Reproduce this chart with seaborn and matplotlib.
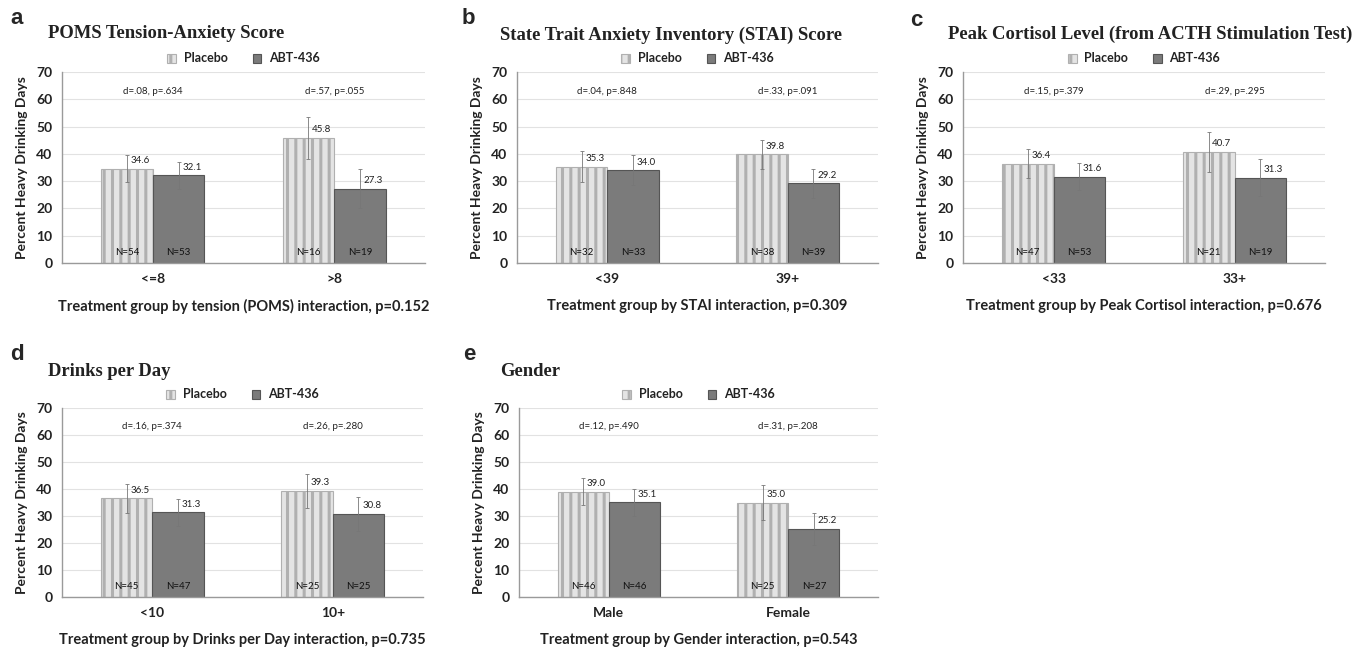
import matplotlib
matplotlib.use("Agg")
import matplotlib.pyplot as plt
from matplotlib.patches import Patch
import pandas as pd
import seaborn as sns

# panel a - POMS
poms_groups = ["<=8", ">8"]
poms_placebo = [34.6, 45.8]
poms_abt = [32.1, 27.3]
poms_placebo_err = [5.0, 7.6]
poms_abt_err = [5.0, 7.2]
poms_placebo_n = [54, 16]
poms_abt_n = [53, 19]
poms_stats = ["d=.08, p=.634", "d=.57, p=.055"]

# panel b - STAI
stai_groups = ["<39", "39+"]
stai_placebo = [35.3, 39.8]
stai_abt = [34.0, 29.2]
stai_placebo_err = [5.7, 5.3]
stai_abt_err = [5.5, 5.2]
stai_placebo_n = [32, 38]
stai_abt_n = [33, 39]
stai_stats = ["d=.04, p=.848", "d=.33, p=.091"]

# panel c - cortisol
cort_groups = ["<33", "33+"]
cort_placebo = [36.4, 40.7]
cort_abt = [31.6, 31.3]
cort_placebo_err = [5.2, 7.2]
cort_abt_err = [5.0, 6.8]
cort_placebo_n = [47, 21]
cort_abt_n = [53, 19]
cort_stats = ["d=.15, p=.379", "d=.29, p=.295"]

# panel d - drinks per day
dpd_groups = ["<10", "10+"]
dpd_placebo = [36.5, 39.3]
dpd_abt = [31.3, 30.8]
dpd_placebo_err = [5.4, 6.3]
dpd_abt_err = [5.0, 6.3]
dpd_placebo_n = [45, 25]
dpd_abt_n = [47, 25]
dpd_stats = ["d=.16, p=.374", "d=.26, p=.280"]

# panel e - gender
gen_groups = ["Male", "Female"]
gen_placebo = [39.0, 35.0]
gen_abt = [35.1, 25.2]
gen_placebo_err = [5.0, 6.5]
gen_abt_err = [5.0, 5.8]
gen_placebo_n = [46, 25]
gen_abt_n = [46, 27]
gen_stats = ["d=.12, p=.490", "d=.31, p=.208"]

arms = ["Placebo", "ABT-436"]

sns.set_style("white")
plt.rcParams["font.family"] = ["Lato", "DejaVu Sans"]
plt.rcParams["hatch.linewidth"] = 2.2

PLACEBO_FACE = "#e4e4e4"
PLACEBO_EDGE = "#b0b0b0"
ABT_FACE = "#7b7b7b"
ABT_EDGE = "#555555"
TEXT = "#222222"

fig = plt.figure(figsize=(13.62, 6.48), dpi=100)


def draw_panel(rect, letter, title, groups, placebo, abt, p_err, a_err,
               p_n, a_n, stats, xlabel, letter_xy, title_xy):
    ax = fig.add_axes(rect)
    df = pd.DataFrame({
        "group": groups * 2,
        "value": placebo + abt,
        "arm": [arms[0]] * len(groups) + [arms[1]] * len(groups),
    })
    sns.barplot(data=df, x="group", y="value", hue="arm", hue_order=arms,
                order=groups, palette={arms[0]: PLACEBO_FACE, arms[1]: ABT_FACE},
                width=0.57, gap=0, errorbar=None, saturation=1,
                legend=False, ax=ax)

    for cont, errs, ns, vals, arm in zip(ax.containers, [p_err, a_err], [p_n, a_n],
                                         [placebo, abt], arms):
        for bar, e, n, v in zip(cont, errs, ns, vals):
            if arm == arms[0]:
                bar.set_hatch("||")
                bar.set_edgecolor(PLACEBO_EDGE)
            else:
                bar.set_edgecolor(ABT_EDGE)
            bar.set_linewidth(0.8)
            cx = bar.get_x() + bar.get_width() / 2
            ax.errorbar(cx, v, yerr=e, color="#777777", lw=0.6, capsize=1.2,
                        capthick=0.6, zorder=4)
            ax.text(cx + 0.02, v + 1.3, f"{v:.1f}", fontsize=7, color=TEXT,
                    ha="left", va="bottom", zorder=5)
            ax.text(cx, 2.2, f"N={n}", fontsize=7, color="#111111",
                    ha="center", va="bottom", zorder=5)

    for i, s in enumerate(stats):
        ax.text(i, 63, s, fontsize=7, color=TEXT, ha="center", va="center")

    ax.set_xlim(-0.5, 1.5)
    ax.set_ylim(0, 70)
    ax.set_yticks(range(0, 71, 10))
    ax.yaxis.grid(True, color="#e2e2e2", lw=0.8)
    ax.set_axisbelow(True)
    for side in ["top", "right"]:
        ax.spines[side].set_visible(False)
    for side in ["left", "bottom"]:
        ax.spines[side].set_color("#9a9a9a")
        ax.spines[side].set_linewidth(1.0)
    ax.tick_params(axis="both", length=0, labelsize=10, colors=TEXT, pad=7)
    for lab in ax.get_xticklabels() + ax.get_yticklabels():
        lab.set_fontweight("bold")
    ax.set_ylabel("Percent Heavy Drinking Days", fontsize=10, fontweight="bold",
                  color=TEXT, labelpad=6)
    ax.set_xlabel(xlabel, fontsize=10.5, fontweight="bold", color=TEXT, labelpad=10)

    handles = [Patch(facecolor=PLACEBO_FACE, edgecolor=PLACEBO_EDGE, hatch="||", lw=0.8),
               Patch(facecolor=ABT_FACE, edgecolor=ABT_EDGE, lw=0.8)]
    leg = ax.legend(handles, arms, loc="lower center", bbox_to_anchor=(0.5, 1.0),
                    ncol=2, frameon=False, handlelength=0.7, handleheight=0.7,
                    columnspacing=2.0, handletextpad=0.6, borderaxespad=0.2,
                    prop={"family": "Lato", "weight": "bold", "size": 9})
    for t in leg.get_texts():
        t.set_color(TEXT)

    fig.text(letter_xy[0] / 1362, 1 - letter_xy[1] / 648, letter, fontsize=16,
             fontweight="bold", family="Liberation Sans", ha="left", va="center")
    fig.text(title_xy[0] / 1362, 1 - title_xy[1] / 648, title, fontsize=13.4,
             fontweight="bold", family="Liberation Serif", ha="left", va="center",
             color=TEXT)
    return ax


top_y, top_h = 1 - 263 / 648, (263 - 72) / 648
bot_y, bot_h = 1 - 597 / 648, (597 - 408) / 648

draw_panel([62 / 1362, top_y, 363 / 1362, top_h], "a", "POMS Tension-Anxiety Score",
           poms_groups, poms_placebo, poms_abt, poms_placebo_err, poms_abt_err,
           poms_placebo_n, poms_abt_n, poms_stats,
           "Treatment group by tension (POMS) interaction, p=0.152", (10, 19), (48, 34))
draw_panel([517 / 1362, top_y, 361 / 1362, top_h], "b",
           "State Trait Anxiety Inventory (STAI) Score",
           stai_groups, stai_placebo, stai_abt, stai_placebo_err, stai_abt_err,
           stai_placebo_n, stai_abt_n, stai_stats,
           "Treatment group by STAI interaction, p=0.309", (462, 19), (500, 35))
draw_panel([963 / 1362, top_y, 362 / 1362, top_h], "c",
           "Peak Cortisol Level (from ACTH Stimulation Test)",
           cort_groups, cort_placebo, cort_abt, cort_placebo_err, cort_abt_err,
           cort_placebo_n, cort_abt_n, cort_stats,
           "Treatment group by Peak Cortisol interaction, p=0.676", (910, 20), (948, 34))
draw_panel([62 / 1362, bot_y, 361 / 1362, bot_h], "d", "Drinks per Day",
           dpd_groups, dpd_placebo, dpd_abt, dpd_placebo_err, dpd_abt_err,
           dpd_placebo_n, dpd_abt_n, dpd_stats,
           "Treatment group by Drinks per Day interaction, p=0.735", (10, 354), (48, 371))
draw_panel([519 / 1362, bot_y, 359 / 1362, bot_h], "e", "Gender",
           gen_groups, gen_placebo, gen_abt, gen_placebo_err, gen_abt_err,
           gen_placebo_n, gen_abt_n, gen_stats,
           "Treatment group by Gender interaction, p=0.543", (463, 355), (500, 371))

fig.savefig("out.png", dpi=100)
